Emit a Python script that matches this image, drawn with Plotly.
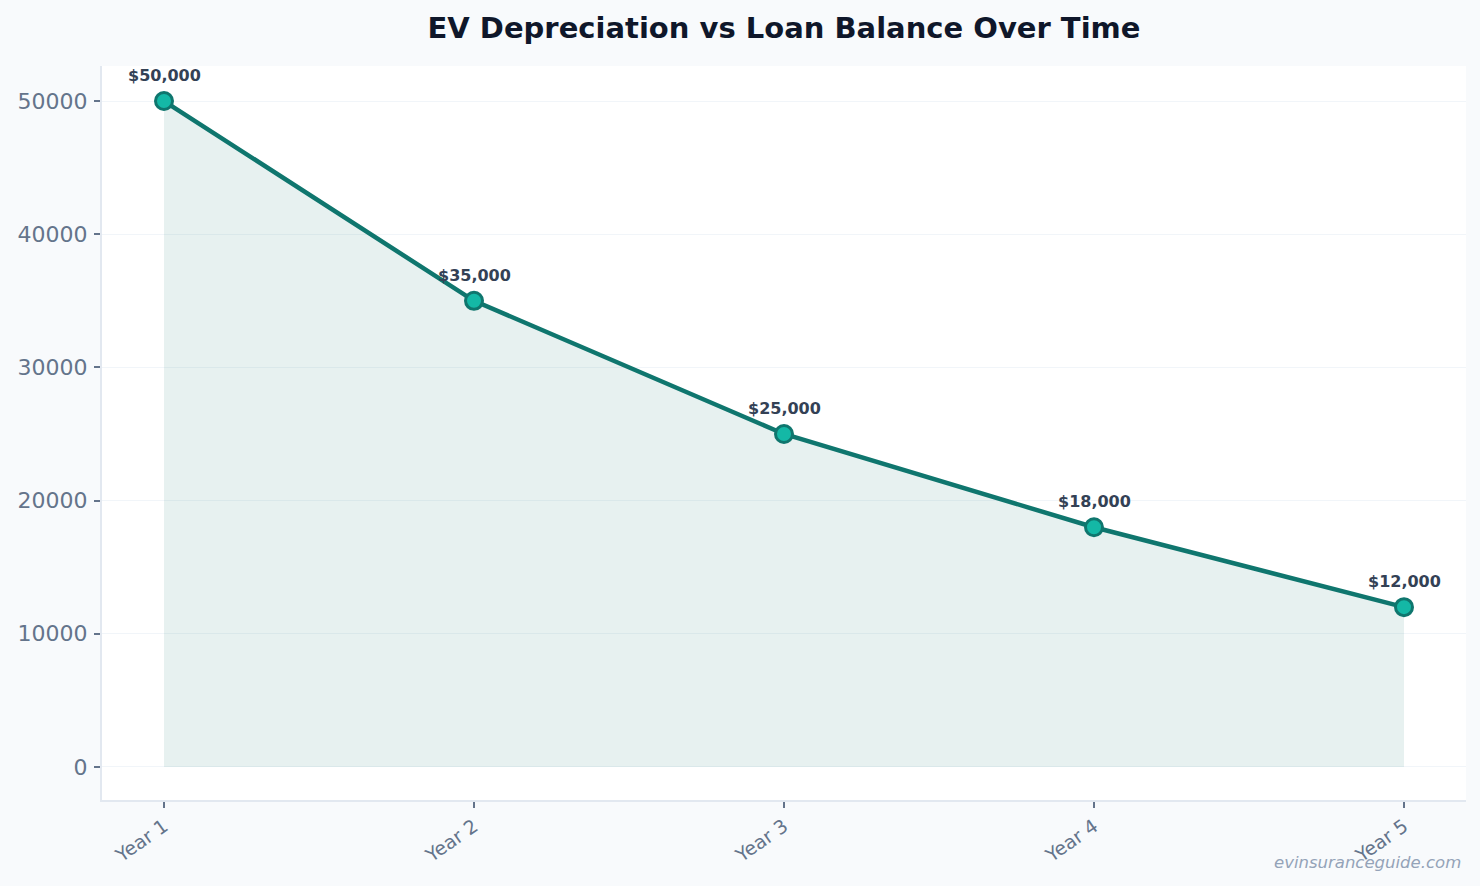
import plotly.graph_objects as go

years = ["Year 1", "Year 2", "Year 3", "Year 4", "Year 5"]
values = [50000, 35000, 25000, 18000, 12000]
labels = ["$50,000", "$35,000", "$25,000", "$18,000", "$12,000"]

fig = go.Figure()
fig.add_trace(go.Scatter(
    x=years, y=values, mode="lines", fill="tozeroy",
    fillcolor="rgba(15,118,110,0.10)",
    line=dict(color="rgba(15,118,110,0.10)", width=2),
    hoverinfo="skip", showlegend=False,
))
fig.add_trace(go.Scatter(
    x=years, y=values, mode="lines+markers",
    line=dict(color="#0f766e", width=4.5),
    marker=dict(size=17, color="#14b8a6", line=dict(color="#0f766e", width=3)),
    showlegend=False,
))
for yr, v, lab in zip(years, values, labels):
    fig.add_annotation(
        x=yr, y=v, text=f"<b>{lab}</b>", showarrow=False,
        yanchor="bottom", yshift=14,
        font=dict(family="DejaVu Sans", size=16, color="#334155"),
    )

fig.update_layout(
    width=1480, height=886,
    paper_bgcolor="#f8fafc", plot_bgcolor="#ffffff",
    margin=dict(l=102, r=14, t=66, b=86),
    font=dict(family="DejaVu Sans", color="#64748b"),
    title=dict(text="<b>EV Depreciation vs Loan Balance Over Time</b>",
               x=0.5, xref="paper", xanchor="center", y=0.969, yanchor="middle",
               font=dict(size=29, color="#0f172a", family="DejaVu Sans")),
)
fig.update_xaxes(
    range=[-0.2, 4.2], tickangle=-35, tickfont=dict(size=19, color="#64748b"),
    showgrid=False, showline=True, linecolor="#e2e8f0", linewidth=2,
    ticks="outside", ticklen=6, tickwidth=2, tickcolor="#64748b", zeroline=False,
)
fig.update_yaxes(
    range=[-2480, 52630], tickvals=[0, 10000, 20000, 30000, 40000, 50000],
    tickformat="d",
    tickfont=dict(size=22, color="#64748b"),
    showgrid=True, gridcolor="#f1f5f9", gridwidth=1,
    showline=True, linecolor="#e2e8f0", linewidth=2,
    ticks="outside", ticklen=6, tickwidth=1.5, tickcolor="#64748b", zeroline=False,
    ticklabelstandoff=2,
)
fig.add_annotation(
    text="<i>evinsuranceguide.com</i>", xref="paper", yref="paper",
    x=0.9975, y=-0.085, xanchor="right", yanchor="middle", showarrow=False,
    font=dict(size=16.5, color="#94a3b8", family="DejaVu Sans"),
)

fig.write_html("out.html")
